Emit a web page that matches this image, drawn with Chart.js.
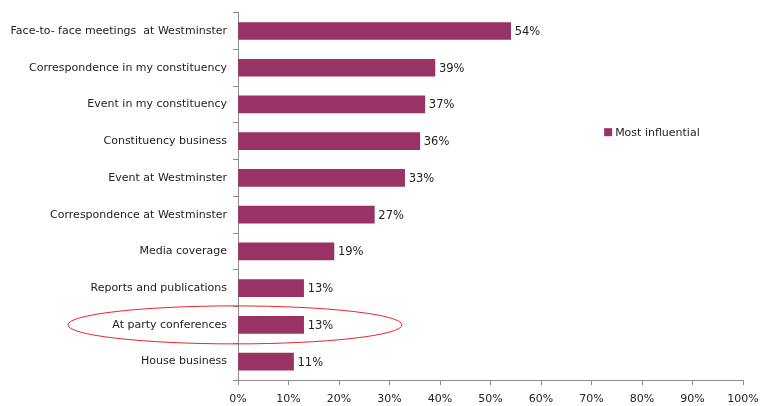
<!DOCTYPE html>
<html lang="en-GB">
<head>
<meta charset="utf-8">
<title>Most influential</title>
<script src="https://cdn.jsdelivr.net/npm/chart.js@4.4.1/dist/chart.umd.min.js"></script>
<style>
  html, body { margin: 0; padding: 0; background: #fff; }
  #holder { width: 762px; height: 406px; }
</style>
</head>
<body>
<div id="holder"><canvas id="chart"></canvas></div>
<script>
const categories = [
  'Face-to- face meetings  at Westminster',
  'Correspondence in my constituency',
  'Event in my constituency',
  'Constituency business',
  'Event at Westminster',
  'Correspondence at Westminster',
  'Media coverage',
  'Reports and publications',
  'At party conferences',
  'House business'
];
const mostInfluential = [54, 39, 37, 36, 33, 27, 19, 13, 13, 11];
const xTicks = [0, 10, 20, 30, 40, 50, 60, 70, 80, 90, 100];
const highlighted = 'At party conferences';

const PURPLE = '#993366';
const TEXT = '#222222';
const AXIS = '#8c8c8c';
const FONT = { family: 'DejaVu Sans', size: 11 };

// value labels at the end of each bar
const valueLabels = {
  id: 'valueLabels',
  afterDatasetsDraw(chart) {
    const ctx = chart.ctx;
    const meta = chart.getDatasetMeta(0);
    ctx.save();
    ctx.font = '11.5px ' + FONT.family;
    ctx.fillStyle = TEXT;
    ctx.textBaseline = 'middle';
    meta.data.forEach((bar, i) => {
      ctx.fillText(mostInfluential[i] + '%', bar.x + 4, bar.y + 1);
    });
    ctx.restore();
  }
};

// legend drawn inside the plot, to the right
const sideLegend = {
  id: 'sideLegend',
  afterDraw(chart) {
    const ctx = chart.ctx;
    const x = chart.scales.x.getPixelForValue(72.5);
    const y = chart.scales.y.getPixelForValue(3) - 9;
    ctx.save();
    ctx.fillStyle = PURPLE;
    ctx.fillRect(x, y - 4, 8, 8);
    ctx.font = FONT.size + 'px ' + FONT.family;
    ctx.fillStyle = TEXT;
    ctx.textBaseline = 'middle';
    ctx.fillText('Most influential', x + 11, y + 1);
    ctx.restore();
  }
};

// red ellipse around the highlighted category
const circleIt = {
  id: 'circleIt',
  afterDraw(chart) {
    const idx = categories.indexOf(highlighted);
    const yc = chart.scales.y.getPixelForValue(idx);
    const xc = chart.scales.x.getPixelForValue(-0.6);
    const ctx = chart.ctx;
    ctx.save();
    ctx.strokeStyle = '#e8262b';
    ctx.lineWidth = 1;
    ctx.beginPath();
    ctx.ellipse(xc, yc, 167, 19, 0, 0, Math.PI * 2);
    ctx.stroke();
    ctx.restore();
  }
};

new Chart(document.getElementById('chart'), {
  type: 'bar',
  data: {
    labels: categories,
    datasets: [{
      label: 'Most influential',
      data: mostInfluential,
      backgroundColor: PURPLE,
      barThickness: 17
    }]
  },
  options: {
    indexAxis: 'y',
    responsive: true,
    maintainAspectRatio: false,
    animation: false,
    layout: { padding: { top: 12, right: 19, left: 0, bottom: 0 } },
    plugins: { legend: { display: false }, tooltip: { enabled: false } },
    scales: {
      x: {
        min: 0,
        max: 100,
        afterBuildTicks(scale) { scale.ticks = xTicks.map(v => ({ value: v })); },
        afterFit(scale) {
          scale.height = 26;
          scale.paddingLeft = 0;
          scale.paddingRight = 0;
        },
        grid: { drawOnChartArea: false, tickLength: 5, color: AXIS },
        border: { color: AXIS },
        ticks: { color: TEXT, font: FONT, padding: 8, callback: v => v + '%' }
      },
      y: {
        afterFit(scale) { scale.width = 238; },
        grid: { drawOnChartArea: false, offset: true, tickLength: 5, color: AXIS },
        border: { color: AXIS },
        ticks: { color: TEXT, font: FONT, padding: 6 }
      }
    }
  },
  plugins: [valueLabels, sideLegend, circleIt]
});
</script>
</body>
</html>
